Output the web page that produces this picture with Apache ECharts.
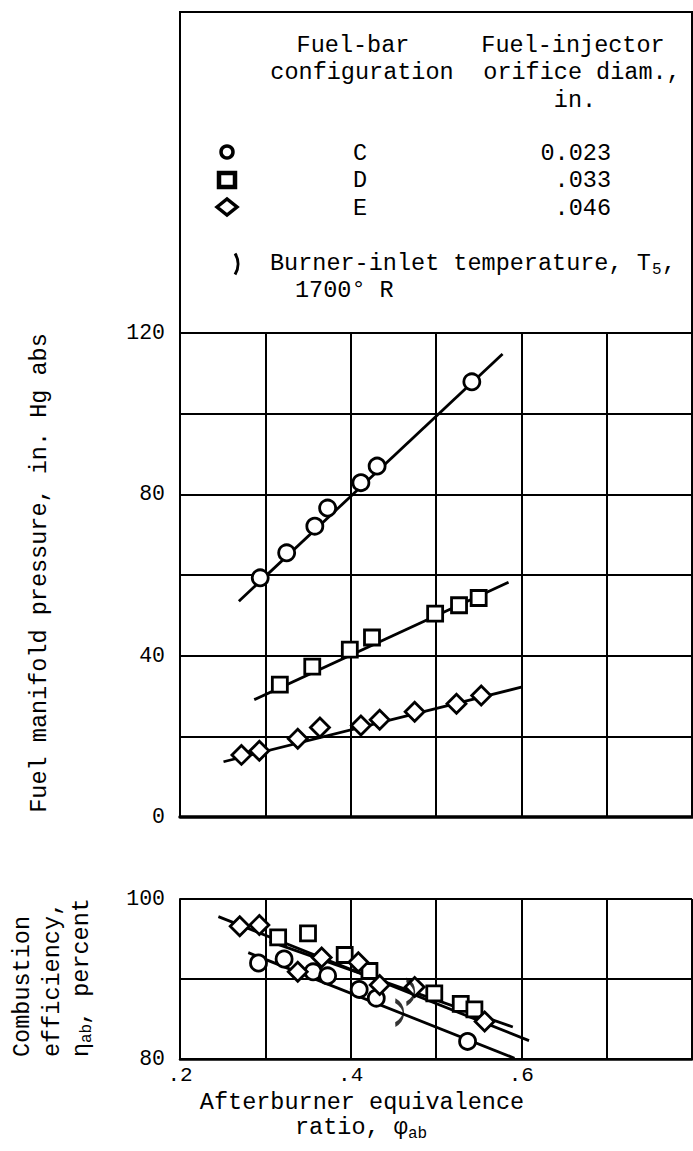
<!DOCTYPE html>
<html>
<head>
<meta charset="utf-8">
<script src="https://cdn.jsdelivr.net/npm/echarts/dist/echarts.min.js"></script>
<style>
html,body{margin:0;padding:0;background:#fff;}
#chart{width:693px;height:1151px;}
</style>
</head>
<body>
<div id="chart"></div>
<script>
// ---- tick labels ----
const xTickLabels = ['.2', '.4', '.6'];
const pressureTickLabels = [0, 40, 80, 120];
const efficiencyTickLabels = [80, 100];

// ---- upper panel: fuel manifold pressure, in. Hg abs ----
const pressureC = [[0.294,59.3],[0.325,65.5],[0.358,72.1],[0.373,76.6],[0.412,82.9],[0.431,87.0],[0.542,107.9]];
const pressureD = [[0.317,32.8],[0.355,37.3],[0.399,41.5],[0.425,44.5],[0.499,50.4],[0.527,52.5],[0.550,54.3]];
const pressureE = [[0.272,15.4],[0.293,16.4],[0.338,19.4],[0.364,22.2],[0.412,22.7],[0.434,24.1],[0.475,26.1],[0.524,28.1],[0.553,30.1]];
const pressureFitC = [[0.269,53.5],[0.578,114.8]];
const pressureFitD = [[0.287,29.1],[0.585,58.2]];
const pressureFitE = [[0.251,13.7],[0.600,32.2]];

// ---- lower panel: combustion efficiency, percent ----
const efficiencyC = [[0.292,92.0],[0.322,92.5],[0.356,90.9],[0.373,90.4],[0.410,88.7],[0.430,87.6],[0.537,82.2]];
const efficiencyD = [[0.315,95.2],[0.350,95.7],[0.393,93.0],[0.422,91.0],[0.498,88.2],[0.529,86.9],[0.545,86.2]];
const efficiencyE = [[0.270,96.6],[0.293,96.75],[0.338,90.9],[0.366,92.7],[0.409,92.1],[0.434,89.25],[0.475,89.0],[0.557,84.7]];
const efficiencyFitC = [[0.280,93.3],[0.592,80.1]];
const efficiencyFitD = [[0.305,94.7],[0.590,84.0]];
const efficiencyFitE = [[0.245,97.8],[0.609,82.3]];
const inletTempMarks = [[0.470,88.4],[0.457,85.8]];

const FONT = '"Liberation Mono", "DejaVu Sans Mono", monospace';
const chart = echarts.init(document.getElementById('chart'), null, {renderer: 'svg'});

const fitLine = (data, xi, yi) => ({
  type: 'line', data, xAxisIndex: xi, yAxisIndex: yi, showSymbol: false, silent: true,
  lineStyle: {color: '#000', width: 2.8}, z: 2, animation: false
});
const marks = (data, xi, yi, symbol, size) => ({
  type: 'scatter', data, xAxisIndex: xi, yAxisIndex: yi, symbol, symbolSize: size, silent: true,
  itemStyle: {color: '#fff', borderColor: '#000', borderWidth: 2.8, opacity: 1}, z: 3, animation: false
});

const txt = (text, x, y, opts = {}) => ({
  type: 'text', x, y, rotation: opts.rotation || 0, z: 50,
  style: {text, fill: '#000', font: (opts.size || 23.5) + 'px ' + FONT,
          align: opts.align || 'left', verticalAlign: opts.valign || 'middle'}
});

const gridLine = {lineStyle: {color: '#000', width: 2}};

const option = {
  backgroundColor: '#fff',
  animation: false,
  grid: [
    {left: 180, top: 333, width: 512, height: 484, outerBoundsMode: 'none'},
    {left: 180, top: 899, width: 512, height: 160, outerBoundsMode: 'none'}
  ],
  xAxis: [
    {type: 'value', gridIndex: 0, min: 0.2, max: 0.8, interval: 0.1,
     axisLine: {show: true, lineStyle: {color: '#000', width: 3.5}}, axisTick: {show: false},
     axisLabel: {show: false}, splitLine: gridLine},
    {type: 'value', gridIndex: 1, min: 0.2, max: 0.8, interval: 0.1,
     axisLine: {show: true, lineStyle: {color: '#000', width: 2.5}}, axisTick: {show: false},
     axisLabel: {color: '#000', fontFamily: FONT, fontSize: 21, margin: 6,
       formatter: v => { const s = v.toFixed(1).replace(/^0/, ''); return xTickLabels.includes(s) ? s : ''; }},
     splitLine: gridLine}
  ],
  yAxis: [
    {type: 'value', gridIndex: 0, min: 0, max: 120, interval: 20,
     axisLine: {show: true, lineStyle: {color: '#000', width: 2}}, axisTick: {show: false},
     axisLabel: {color: '#000', fontFamily: FONT, fontSize: 21.5, margin: 15,
       formatter: v => pressureTickLabels.includes(Math.round(v)) ? String(Math.round(v)) : ''},
     splitLine: gridLine},
    {type: 'value', gridIndex: 1, min: 80, max: 100, interval: 10,
     axisLine: {show: true, lineStyle: {color: '#000', width: 2}}, axisTick: {show: false},
     axisLabel: {color: '#000', fontFamily: FONT, fontSize: 21.5, margin: 15,
       formatter: v => efficiencyTickLabels.includes(Math.round(v)) ? String(Math.round(v)) : ''},
     splitLine: gridLine}
  ],
  series: [
    fitLine(pressureFitC, 0, 0), fitLine(pressureFitD, 0, 0), fitLine(pressureFitE, 0, 0),
    marks(pressureC, 0, 0, 'circle', 16),
    marks(pressureD, 0, 0, 'rect', 15),
    marks(pressureE, 0, 0, 'diamond', 19),
    fitLine(efficiencyFitC, 1, 1), fitLine(efficiencyFitD, 1, 1), fitLine(efficiencyFitE, 1, 1),
    marks(efficiencyC, 1, 1, 'circle', 16),
    marks(efficiencyD, 1, 1, 'rect', 15),
    marks(efficiencyE, 1, 1, 'diamond', 19),
    {type: 'scatter', data: inletTempMarks, xAxisIndex: 1, yAxisIndex: 1, silent: true,
     symbol: 'path://M0,0C8,6 8,18 0,24', symbolSize: [8, 24], symbolKeepAspect: false,
     itemStyle: {color: 'none', borderColor: '#000', borderWidth: 2.8}, z: 4, animation: false}
  ],
  graphic: [
    {type: 'rect', shape: {x: 180, y: 12, width: 512, height: 805}, z: 40,
     style: {fill: 'none', stroke: '#000', lineWidth: 2}},
    // legend header
    txt('Fuel-bar', 353, 45, {align: 'center'}),
    txt('configuration', 362, 72, {align: 'center'}),
    txt('Fuel-injector', 573, 45, {align: 'center'}),
    txt('orifice diam.,', 582, 72, {align: 'center'}),
    txt('in.', 575, 100, {align: 'center'}),
    // legend rows
    {type: 'circle', shape: {cx: 227, cy: 152, r: 6}, z: 50, style: {fill: '#fff', stroke: '#000', lineWidth: 3.5}},
    {type: 'rect', shape: {x: 219, y: 173, width: 16, height: 14}, z: 50, style: {fill: '#fff', stroke: '#000', lineWidth: 4.5}},
    {type: 'polygon', shape: {points: [[217, 207], [227, 199], [237, 207], [227, 215]]}, z: 50, style: {fill: '#fff', stroke: '#000', lineWidth: 3.5}},
    txt('C', 360, 153, {align: 'center'}),
    txt('D', 360, 180, {align: 'center'}),
    txt('E', 360, 208, {align: 'center'}),
    txt('0.023', 611, 153, {align: 'right'}),
    txt('.033', 611, 180, {align: 'right'}),
    txt('.046', 611, 208, {align: 'right'}),
    {type: 'arc', shape: {cx: 218, cy: 264, r: 20, startAngle: -0.55, endAngle: 0.55}, z: 50,
     style: {fill: 'none', stroke: '#000', lineWidth: 3}},
    txt('Burner-inlet temperature, T', 270, 263),
    txt('5', 652, 270, {size: 16}),
    txt(',', 662, 263),
    txt('1700° R', 295, 290),
    // axis titles
    txt('Fuel manifold pressure, in. Hg abs', 39, 573, {align: 'center', rotation: Math.PI / 2}),
    txt('Combustion', 22, 1057, {rotation: Math.PI / 2}),
    txt('efficiency,', 52, 1057, {rotation: Math.PI / 2}),
    txt('η', 81, 1057, {rotation: Math.PI / 2}),
    txt('ab', 87, 1043, {rotation: Math.PI / 2, size: 16}),
    txt(', percent', 81, 1025, {rotation: Math.PI / 2}),
    txt('Afterburner equivalence', 362, 1102, {align: 'center'}),
    txt('ratio, φ', 295, 1127),
    txt('ab', 408, 1134, {size: 16})
  ]
};
chart.setOption(option);
</script>
</body>
</html>
